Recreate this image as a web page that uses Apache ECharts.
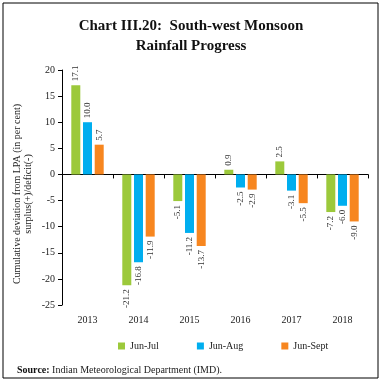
<!DOCTYPE html>
<html><head><meta charset="utf-8">
<script src="https://cdn.jsdelivr.net/npm/echarts@6/dist/echarts.min.js"></script>
<style>html,body{margin:0;padding:0;background:#fff}#c{width:382px;height:383px}</style>
</head><body><div id="c"></div>
<script>
const categories = ['2013','2014','2015','2016','2017','2018'];
const junJul  = [17.1, -21.2, -5.1, 0.9, 2.5, -7.2];
const junAug  = [10.0, -16.8, -11.2, -2.5, -3.1, -6.0];
const junSept = [5.7, -11.9, -13.7, -2.9, -5.5, -9.0];
const seriesNames = ['Jun-Jul','Jun-Aug','Jun-Sept'];
const colors = ['#9CC93B','#00AEEF','#F7861F'];
const yTicks = {min:-25, max:20, interval:5};

const FONT = 'Liberation Serif';
function items(arr){
  return arr.map(v => ({
    value: v,
    label: v >= 0
      ? {position:'top', align:'left', verticalAlign:'middle'}
      : {position:'bottom', align:'right', verticalAlign:'middle'}
  }));
}
const seriesData = [junJul, junAug, junSept];
const chart = echarts.init(document.getElementById('c'));
chart.setOption({
  animation:false,
  textStyle:{fontFamily:FONT},
  title:[{
    text:'Chart III.20:  South-west Monsoon\nRainfall Progress',
    left:'center', top:11,
    textStyle:{fontFamily:FONT, fontSize:15, fontWeight:'bold', color:'#111', lineHeight:20}
  },{
    text:'{b|Source:} Indian Meteorological Department (IMD).',
    left:12, top:360,
    textStyle:{fontFamily:FONT, fontSize:10, fontWeight:'normal', color:'#222',
      rich:{b:{fontFamily:FONT, fontSize:10, fontWeight:'bold', color:'#111'}}}
  }],
  grid:{left:62, right:14, top:70, bottom:78, containLabel:false},
  legend:{
    data:seriesNames, left:113, top:336, itemWidth:7, itemHeight:7, itemGap:38,
    icon:'rect', textStyle:{fontFamily:FONT, fontSize:10, color:'#222'}
  },
  xAxis:[{
    type:'category', data:categories, position:'bottom',
    axisLine:{show:false, onZero:false}, axisTick:{show:false},
    axisLabel:{fontFamily:FONT, fontSize:10, color:'#222', margin:10}
  },{
    type:'category', data:categories, position:'bottom',
    axisLine:{show:true, onZero:true, lineStyle:{color:'#000', width:1}},
    axisTick:{show:true, length:4, lineStyle:{color:'#000'}},
    axisLabel:{show:false}
  }],
  yAxis:{
    type:'value', min:yTicks.min, max:yTicks.max, interval:yTicks.interval,
    splitLine:{show:false},
    axisLine:{show:true, lineStyle:{color:'#000'}},
    axisTick:{show:true, length:4, lineStyle:{color:'#000'}},
    axisLabel:{fontFamily:FONT, fontSize:10, color:'#222', margin:7}
  },
  graphic:[{
    type:'rect', shape:{x:3, y:3, width:375, height:375},
    style:{fill:'none', stroke:'#000', lineWidth:1}, silent:true, z:100
  },{
    type:'text', x:17, y:194, rotation:Math.PI/2,
    style:{text:'Cumulative deviation from LPA (in per cent)', fontFamily:FONT, fontSize:10,
      fill:'#222', textAlign:'center', textVerticalAlign:'middle'}
  },{
    type:'text', x:28, y:194, rotation:Math.PI/2,
    style:{text:'surplus(+)/deficit(-)', fontFamily:FONT, fontSize:10,
      fill:'#222', textAlign:'center', textVerticalAlign:'middle'}
  }],
  series: seriesNames.map((n,i)=>({
    name:n, type:'bar', xAxisIndex:0, barWidth:9, barGap:'30%',
    itemStyle:{color:colors[i]},
    label:{show:true, rotate:90, distance:4, fontFamily:FONT, fontSize:9, color:'#333',
      formatter:p=>p.value.toFixed(1)},
    data:items(seriesData[i])
  }))
});
</script></body></html>
